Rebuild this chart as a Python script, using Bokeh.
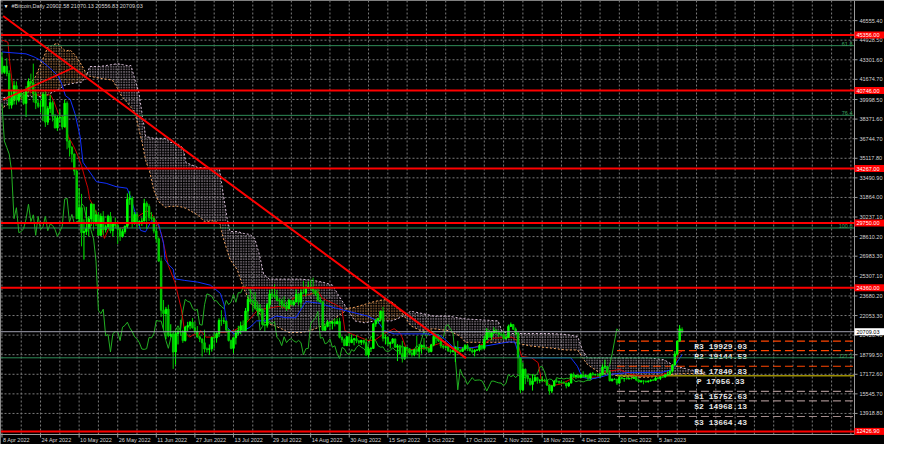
from bokeh.plotting import figure
from bokeh.models import ColumnDataSource, Range1d
from bokeh.core.properties import value
from bokeh.embed import file_html
from bokeh.resources import INLINE

# ---------------- daily candles, 8 Apr 2022 .. 15 Jan 2023 (day index 0..282) -------------
opens = [
 43450, 42260, 42760, 42160, 39530, 40080, 41150, 39940, 40550, 40380, 39680, 40800, 41500, 41370, 40480, 39710, 39450, 39450, 40430, 38120, 39240, 39740, 38600,
 37640, 38470, 38520, 37720, 39690, 36550, 36010, 35470, 34060, 30100, 31010, 28940, 29030, 29280, 30080, 31300, 29860, 30420, 28720, 30290, 29180, 29430, 30290, 29100, 29650, 29540, 29200, 28630, 29030, 29470, 31720,
 31790, 29800, 30450, 29700, 29860, 29910, 31370, 31120, 30200, 30110, 29080, 28420, 26570, 22490, 22210, 22580, 20380, 20470, 19020, 20550, 20720, 20710, 19970, 21090, 21230, 21500, 21030, 20730, 20280, 20100,
 19790, 19270, 19240, 19300, 20230, 20190, 20550, 21640, 21590, 21600, 20860, 19970, 19330, 20210, 20590, 20830, 21200, 20790, 22430, 23400, 23230, 23160, 22680, 22460, 22580, 21310, 21250, 22950, 23850, 23780, 23650,
 23300, 23270, 22990, 22820, 22620, 23310, 22960, 23180, 23810, 23160, 23950, 23940, 24400, 24440, 24300, 24100, 23850, 23340, 23200, 20830, 21140, 21520, 21400, 21530, 21370, 21560, 20240, 20040, 19550, 20290, 19800,
 20050, 20130, 19950, 19830, 19990, 19800, 18790, 19290, 19320, 21360, 21650, 21830, 22400, 20170, 20230, 19700, 19800, 20110, 19420, 19540, 18880, 18480, 19400, 19290, 18920, 18800, 19230, 19080, 19410, 19590,
 19420, 19310, 19060, 19620, 20330, 20160, 19960, 19530, 19420, 19450, 19130, 19060, 19150, 19380, 19180, 19070, 19270, 19550, 19330, 19130, 19040, 19170, 19200, 19570, 19330, 20080, 20770, 20290, 20600, 20810, 20630,
 20490, 20480, 20150, 20210, 21150, 21300, 20920, 20600, 18540, 15880, 17590, 17070, 16810, 16330, 16620, 16900, 16660, 16690, 16700, 16630, 16280, 15780, 16190, 16610, 16600, 16520, 16460, 16440, 16210, 16440,
 17170, 16970, 17090, 16890, 17110, 16970, 17090, 16840, 17220, 17130, 17130, 17090, 17210, 17780, 17810, 17360, 16630, 16780, 16740, 16440, 16900, 16820, 16830, 16780, 16840, 16830, 16920, 16700, 16550, 16630, 16600,
 16540, 16620, 16680, 16670, 16850, 16830, 16950, 16940, 17120, 17180, 17440, 17940, 18850, 19930, 20902.58]
highs = [
 43950, 42800, 43430, 42420, 40700, 41560, 41500, 40860, 40710, 40600, 41100, 41750, 42150, 42980, 40780, 39980, 39920, 40600, 40780, 39450, 40370, 39920, 38790,
 38670, 39150, 38650, 39980, 39850, 36650, 36130, 35500, 34250, 32650, 32160, 30040, 31080, 30320, 31420, 31320, 30780, 30660, 30540, 30730, 29610, 30430, 30650, 29810, 30200, 29850, 29370, 29250, 29530, 32200, 32380,
 31970, 30650, 30680, 29960, 30150, 31750, 31540, 31300, 30650, 30320, 29420, 28540, 26880, 23340, 22770, 22950, 21330, 20800, 20780, 21000, 21700, 20860, 21200, 21530, 21600, 21850, 21520, 21180, 20400, 20150,
 20880, 19400, 19650, 20300, 20700, 20650, 21820, 22500, 21900, 21620, 20880, 20060, 20270, 20850, 21200, 21550, 21650, 22680, 23750, 24250, 23420, 24000, 22980, 23000, 22640, 21340, 23090, 24180, 24440, 24650, 24170,
 23480, 23450, 23650, 23210, 23450, 23350, 23380, 24230, 23920, 24220, 24920, 24440, 24890, 25050, 25200, 24230, 24440, 23600, 23200, 21380, 21680, 21520, 21650, 21800, 21820, 21870, 20340, 20150, 20380, 20560, 20480,
 20200, 20440, 19980, 20020, 20040, 20170, 19450, 19450, 21450, 21780, 21850, 22480, 22780, 20480, 20330, 19900, 20180, 20110, 19680, 19630, 19950, 19480, 19480, 19320, 19200, 19300, 20350, 19700, 19640, 20180,
 19480, 19390, 19700, 20470, 20360, 20450, 20060, 19610, 19530, 19520, 19260, 19220, 19510, 19950, 19220, 19420, 19680, 19700, 19360, 19350, 19250, 19250, 19690, 19600, 20400, 21000, 20860, 20740, 21080, 20920, 20830,
 20690, 20780, 20380, 21300, 21470, 21350, 21060, 20670, 18590, 18150, 17650, 17070, 16880, 17170, 17120, 16980, 16740, 17000, 16800, 16750, 16290, 16300, 16680, 16800, 16620, 16700, 16600, 16480, 16530, 17250,
 17320, 17100, 17150, 17200, 17420, 17110, 17140, 17300, 17360, 17230, 17270, 17240, 18000, 18380, 17850, 17530, 16800, 16860, 16820, 17050, 16910, 16860, 16950, 16870, 16860, 16940, 16960, 16780, 16650, 16640, 16650,
 16630, 16760, 16780, 16980, 16880, 17020, 16970, 17180, 17390, 17490, 17990, 19100, 19960, 21260, 21070.13]
lows = [
 42100, 42130, 41930, 39200, 39250, 39580, 39570, 39770, 40030, 39550, 38550, 40580, 40850, 39760, 39200, 39290, 38920, 38200, 37720, 37880, 38880, 38180, 37600,
 37390, 38070, 37510, 37670, 35860, 35260, 34780, 33710, 30050, 29730, 27800, 26700, 28750, 28630, 29480, 29100, 29480, 28670, 28680, 28750, 28950, 29250, 28880, 28620, 29300, 28000, 28250, 28530, 28850, 29300, 31250,
 29350, 29600, 29350, 29500, 29500, 29870, 29250, 29900, 29950, 28870, 28100, 26560, 21930, 20850, 20100, 20250, 20240, 17620, 17970, 19650, 20360, 19780, 19900, 20750, 20900, 20980, 20530, 20200, 19850, 18650,
 18980, 18980, 18780, 19050, 19320, 19800, 20260, 21200, 21350, 20650, 19900, 19250, 18910, 19650, 20400, 20500, 20770, 20770, 21650, 23000, 22350, 22530, 22000, 22300, 21250, 20720, 21050, 22650, 23450, 23500, 23230,
 22850, 22650, 22700, 22430, 22580, 22920, 22850, 23150, 22900, 22700, 23880, 23630, 24300, 24150, 23800, 23680, 23200, 23080, 20790, 20800, 21070, 20900, 20900, 21150, 21330, 20150, 19800, 19550, 19550, 19530, 19770,
 19580, 19760, 19660, 19610, 19640, 18700, 18550, 19020, 19300, 21110, 21370, 21580, 19900, 19650, 19520, 19320, 19700, 19380, 18270, 18780, 18150, 18360, 18600, 18820, 18630, 18670, 18820, 18490, 18880, 19180,
 19160, 18930, 19000, 19500, 19740, 19860, 19340, 19260, 19320, 19030, 18890, 18980, 18190, 19080, 18990, 19060, 19160, 19100, 19080, 18900, 18660, 19110, 19070, 19160, 19250, 20060, 20200, 20000, 20560, 20530, 20260,
 20350, 20060, 20060, 20190, 21100, 20880, 20400, 17200, 15600, 15760, 16350, 16550, 16220, 15820, 16550, 16390, 16430, 16550, 16560, 16200, 15480, 15600, 16180, 16470, 16350, 16400, 16410, 16000, 16120, 16430,
 16860, 16790, 16860, 16880, 16880, 16910, 16690, 16740, 17070, 17090, 17070, 16880, 17080, 17660, 17280, 16590, 16580, 16700, 16280, 16400, 16750, 16560, 16760, 16770, 16730, 16780, 16600, 16480, 16480, 16340, 16480,
 16500, 16560, 16610, 16660, 16750, 16690, 16910, 16920, 17100, 17150, 17320, 17910, 18720, 19890, 20556.83]
closes = [
 42260, 42760, 42160, 39530, 40080, 41150, 39940, 40550, 40380, 39680, 40800, 41500, 41370, 40480, 39710, 39450, 39450, 40430, 38120, 39240, 39740, 38600, 37640,
 38470, 38520, 37720, 39690, 36550, 36010, 35470, 34060, 30100, 31010, 28940, 29030, 29280, 30080, 31300, 29860, 30420, 28720, 30290, 29180, 29430, 30290, 29100, 29650, 29540, 29200, 28630, 29030, 29470, 31720, 31790,
 29800, 30450, 29700, 29860, 29910, 31370, 31120, 30200, 30110, 29080, 28420, 26570, 22490, 22210, 22580, 20380, 20470, 19020, 20550, 20720, 20710, 19970, 21090, 21230, 21500, 21030, 20730, 20280, 20100, 19790,
 19270, 19240, 19300, 20230, 20190, 20550, 21640, 21590, 21600, 20860, 19970, 19330, 20210, 20590, 20830, 21200, 20790, 22430, 23400, 23230, 23160, 22680, 22460, 22580, 21310, 21250, 22950, 23850, 23780, 23650, 23300,
 23270, 22990, 22820, 22620, 23310, 22960, 23180, 23810, 23160, 23950, 23940, 24400, 24440, 24300, 24100, 23850, 23340, 23200, 20830, 21140, 21520, 21400, 21530, 21370, 21560, 20240, 20040, 19550, 20290, 19800, 20050,
 20130, 19950, 19830, 19990, 19800, 18790, 19290, 19320, 21360, 21650, 21830, 22400, 20170, 20230, 19700, 19800, 20110, 19420, 19540, 18880, 18480, 19400, 19290, 18920, 18800, 19230, 19080, 19410, 19590, 19420,
 19310, 19060, 19620, 20330, 20160, 19960, 19530, 19420, 19450, 19130, 19060, 19150, 19380, 19180, 19070, 19270, 19550, 19330, 19130, 19040, 19170, 19200, 19570, 19330, 20080, 20770, 20290, 20600, 20810, 20630, 20490,
 20480, 20150, 20210, 21150, 21300, 20920, 20600, 18540, 15880, 17590, 17070, 16810, 16330, 16620, 16900, 16660, 16690, 16700, 16630, 16280, 15780, 16190, 16610, 16600, 16520, 16460, 16440, 16210, 16440, 17170,
 16970, 17090, 16890, 17110, 16970, 17090, 16840, 17220, 17130, 17130, 17090, 17210, 17780, 17810, 17360, 16630, 16780, 16740, 16440, 16900, 16820, 16830, 16780, 16840, 16830, 16920, 16700, 16550, 16630, 16600, 16540,
 16620, 16680, 16670, 16850, 16830, 16950, 16940, 17120, 17180, 17440, 17940, 18850, 19930, 20950, 20709.03]

# ---------------- Ichimoku lines (day, price) ----------------
tenkan = [(0, 44940), (2.5, 44760), (3.2, 43140), (4.6, 40830), (7.9, 40020), (10.7, 40830), (13.2, 40430),
          (17.3, 40320), (20.1, 40400), (21.4, 39920), (23.4, 38810), (25.4, 38550), (27.5, 36930), (29, 36390),
          (30.3, 35880), (31.5, 35320), (33, 34510), (34.4, 33460), (35.6, 32660), (36.4, 31690), (37.6, 31290),
          (40.5, 29940), (42.5, 28460), (44.6, 29430), (46.6, 29670), (48.6, 29270), (51.4, 29430), (53.9, 29840),
          (56.8, 30340), (60, 30750), (62.1, 30480), (64.1, 29840), (66.1, 28870), (69, 26210), (71.7, 24830),
          (74.3, 22680), (75.8, 20670), (77.8, 20260), (79.9, 20530), (81.2, 20260), (82.4, 20800), (84.5, 20260),
          (88, 20260), (90, 20670), (93.4, 20670), (96.1, 20800), (98.7, 21070), (101.5, 21470), (105.6, 22410),
          (108.3, 22580), (110.9, 22680), (115, 22820), (119, 22580), (120.6, 23490), (123.1, 23620), (127.2, 23790),
          (131.3, 24030), (132.8, 23490), (138.2, 22980), (140.9, 22680), (142.2, 20800), (145, 20530), (151.6, 19990),
          (154.5, 19990), (158.5, 20560), (162.6, 20960), (165.3, 20560), (167.9, 19190), (176, 19350), (181.6, 19750),
          (185.7, 19450), (189.7, 19350), (195.2, 19350), (200.4, 19750), (203.3, 20160), (211.4, 20260), (213.5, 19990),
          (215.5, 18650), (219.6, 18540), (222.3, 18140), (223.6, 16770), (227.7, 16230), (231.8, 16360), (235.9, 16770),
          (238.6, 17040), (241.1, 16930), (246.7, 16930), (249.3, 17330), (252.1, 17440), (256.2, 17570), (260.3, 17170),
          (265.6, 17040), (272.5, 17040), (276.5, 17330), (279.3, 18140), (280.6, 18950), (282, 19090)]
kijun = [(0, 43950), (10, 43790), (13.2, 43550), (16.1, 43250), (20.1, 42580), (23.4, 41930), (24.9, 41230),
         (26.3, 40320), (28.3, 40020), (30.3, 38810), (32.4, 36930), (33.6, 34780), (39.2, 33170), (43.2, 33040),
         (47.3, 32760), (51.9, 32630), (53.4, 31850), (55.4, 30480), (57.5, 29130), (59.5, 29000), (62.1, 29940),
         (64.9, 29680), (67, 28060), (67.6, 26720), (69, 26310), (71, 25910), (71.7, 25100), (75.8, 24970),
         (81.2, 24830), (86.5, 24570), (90.6, 23890), (92.1, 22950), (93.4, 21070), (96.1, 20530), (98.7, 20660),
         (102.8, 21070), (105.6, 21610), (109.7, 21610), (113.8, 22010), (117.8, 21870), (121.9, 21870), (126, 23220),
         (131.3, 23080), (138.2, 22680), (143.5, 22410), (151.6, 22010), (155.7, 21610), (158.5, 20800), (162.6, 20530),
         (176, 20530), (181.6, 20400), (184.2, 19990), (187, 19450), (192.3, 19330), (200.4, 19520), (210.1, 19860),
         (212.7, 19860), (214.7, 18540), (235.9, 18540), (238.6, 17840), (240.6, 16930), (244, 16770), (248, 16930),
         (252.1, 17170), (260.3, 17330), (273.7, 17330), (277.8, 17570), (280.6, 18380), (282, 18800)]
# cloud: (day, senkou span A, senkou span B)
cloud = [(0.6, 39350, 40160), (8, 40300, 40400), (14, 41930, 40160), (19, 44350, 40400), (23, 44680, 40800),
         (26.3, 44030, 41210), (28.3, 44110, 41290), (30.3, 43710, 41370), (33.2, 42820, 41450), (35.2, 42050, 42050),
         (36.4, 41930, 42740), (40.5, 41770, 42740), (45.8, 41610, 42900), (47.8, 40970, 42980), (49.9, 40160, 42900),
         (51.9, 39760, 42820), (53.5, 39350, 42820), (55.2, 38870, 41610), (56.8, 37500, 40560), (58, 36530, 38950),
         (59.6, 34920, 36930), (61.3, 33950, 36850), (62.9, 32500, 36770), (64.9, 31530, 36770), (67.8, 31040, 36770),
         (69.8, 31130, 36450), (73.1, 31130, 36290), (75.1, 31040, 35970), (76.3, 30960, 34760), (81.2, 30400, 34350),
         (84, 29840, 34350), (87.3, 29920, 34270), (90.2, 29750, 34190), (91.8, 28460, 32090), (93.4, 27420, 30080),
         (94.6, 26690, 29030), (97.5, 25880, 29030), (100.3, 24270, 28870), (102.8, 23220, 28790), (104.8, 22660, 28460),
         (106.8, 22250, 27090), (108.5, 21610, 25480), (110.9, 21370, 25080), (115, 21040, 25080), (119, 20640, 25080),
         (123.9, 20640, 25080), (128, 20800, 25000), (132.9, 21200, 24830), (137, 21610, 24590), (139.4, 22010, 23790),
         (142.2, 22410, 22900), (143, 22650, 22650), (146.3, 22740, 21610), (150.4, 22980, 21450), (154.5, 23220, 21610),
         (158.5, 23380, 21610), (161.4, 23220, 21610), (163.8, 22820, 21770), (166.7, 22050, 22050), (169.5, 21200, 22410),
         (173.6, 20800, 22250), (178.9, 20960, 22010), (185, 20800, 22010), (189.5, 20400, 21850), (192.3, 19830, 21770),
         (199.2, 19830, 21690), (205.7, 19830, 21610), (207.4, 19830, 20720), (211.4, 19830, 20560), (219.6, 19510, 20560),
         (227.7, 19350, 20560), (233.8, 19190, 20480), (238.7, 19190, 20320), (240.7, 18540, 19190), (242.8, 17980, 18540),
         (248.1, 17250, 18540), (254.2, 17090, 18540), (260.3, 16930, 18540), (268.4, 16930, 18540), (274.5, 17090, 18380),
         (278.6, 17170, 17900), (284.7, 17250, 17570), (291.6, 17170, 17330)]
chikou_shift = 26

# ---------------- levels / drawn objects ----------------
red_levels = [45356.00, 40746.00, 34267.00, 29750.00, 24360.00, 12426.90]
fib_levels = [44474, 38684, 29326, 18541]
fib_labels = ["61.8", "76.4", "100.0", "127.2"]
last_price = 20709.03
pivot_names = ["R3", "R2", "R1", "P", "S1", "S2", "S3"]
pivot_values = [19929.03, 19144.53, 17840.83, 17056.33, 15752.63, 14968.13, 13664.43]
pivot_start_day = 255
pivot_label_day = 298
trend_long = [(0.5, 46934), (192.4, 18519)]
trend_short = [(0.5, 39982), (29.6, 42635)]

y_ticks = [46555.40, 44928.50, 43301.60, 41674.70, 39998.50, 38371.60, 36744.70, 35117.80, 33490.90,
           31864.00, 30237.10, 28610.20, 26983.30, 25307.10, 23680.20, 22053.30, 20426.40, 18799.50,
           17172.60, 15545.70, 13918.80]
date_tick_days = [0, 16, 32, 48, 64, 80, 96, 112, 128, 144, 160, 176, 192, 208, 224, 240, 256, 272]
date_tick_labels = ["8 Apr 2022", "24 Apr 2022", "10 May 2022", "26 May 2022", "11 Jun 2022", "27 Jun 2022",
                    "13 Jul 2022", "29 Jul 2022", "14 Aug 2022", "30 Aug 2022", "15 Sep 2022", "1 Oct 2022",
                    "17 Oct 2022", "2 Nov 2022", "18 Nov 2022", "4 Dec 2022", "20 Dec 2022", "5 Jan 2023"]
grid_step_days = 8
title_text = "#Bitcoin,Daily  20902.58 21070.13 20556.83 20709.03"

# ---------------- geometry: chart area + price scale + time scale drawn in one frame ----------------
W, H = 884, 444
CHART_W, CHART_H = 854, 434            # chart area in pixels (rest = scales)
X0, XC = -0.6, 353.5                   # visible days of the chart area
Y0, Y1 = 12170, 48225                  # visible prices of the chart area
DPX = (XC - X0) / CHART_W              # days per pixel
VPX = (Y1 - Y0) / CHART_H              # price per pixel
X_END = X0 + W * DPX
Y_START = Y0 - (H - CHART_H) * VPX

FONT = "Liberation Sans"
TXT = "#d6d6d6"
FS = "5.5px"
BORDER = "#9a9a9a"

p = figure(width=W, height=H, x_range=Range1d(X0, X_END), y_range=Range1d(Y_START, Y1),
           x_axis_location=None, y_axis_location=None, output_backend="svg", toolbar_location=None,
           background_fill_color="black", border_fill_color="black", min_border=0)
p.outline_line_color = None
p.grid.visible = False

# grid
gdays = list(range(0, int(XC) + 1, grid_step_days))
p.segment(x0=gdays, x1=gdays, y0=[Y0] * len(gdays), y1=[Y1] * len(gdays),
          line_color="#7a7a7a", line_dash="2 2", line_width=1)
p.segment(x0=[X0] * len(y_ticks), x1=[XC] * len(y_ticks), y0=y_ticks, y1=y_ticks,
          line_color="#7a7a7a", line_dash="2 2", line_width=1)

# ---------------- cloud ----------------
cd = [c[0] for c in cloud]
span_a = [c[1] for c in cloud]
span_b = [c[2] for c in cloud]
top_ab = [max(a, b) for a, b in zip(span_a, span_b)]
p.varea(x=cd, y1=span_b, y2=top_ab, fill_alpha=0, hatch_pattern="dot", hatch_color="#f4a460",
        hatch_scale=2.6, hatch_weight=1.2, hatch_alpha=1.0)
p.varea(x=cd, y1=span_a, y2=top_ab, fill_alpha=0, hatch_pattern="dot", hatch_color="#e0cce0",
        hatch_scale=2.6, hatch_weight=1.2, hatch_alpha=1.0)
p.line(cd, span_a, line_color="#f4a460", line_dash="2 2", line_width=1)
p.line(cd, span_b, line_color="#d8bfd8", line_dash="2 2", line_width=1)

# ---------------- pivot levels ----------------
piv_colors = ["#ff4500", "#ff4500", "#ff4500", "#9a8c00", "#a08a8a", "#a08a8a", "#a08a8a"]
piv_dash = ["8 4", "8 4", "8 4", "solid", "8 4", "8 4", "8 4"]
for v, c, d in zip(pivot_values, piv_colors, piv_dash):
    p.segment(x0=[pivot_start_day], x1=[XC], y0=[v], y1=[v], line_color=c, line_dash=d,
              line_width=1.5 if d == "solid" else 1.2)
p.text(x=[pivot_label_day] * len(pivot_values), y=pivot_values,
       text=[f"{n} {v:.2f}" for n, v in zip(pivot_names, pivot_values)],
       text_align="center", text_baseline="top", y_offset=1,
       text_font=value("Liberation Mono"), text_font_size="8px", text_font_style="bold",
       text_color="#e6e6e6")

# ---------------- indicator lines ----------------
cx = [d - chikou_shift for d in range(chikou_shift, len(closes))]
p.line(cx, closes[chikou_shift:], line_color="#22b022", line_width=1)
p.line([t[0] for t in tenkan], [t[1] for t in tenkan], line_color="#cc0000", line_width=1)
p.line([k[0] for k in kijun], [k[1] for k in kijun], line_color="#1030ff", line_width=1)

# ---------------- candles ----------------
days = list(range(len(closes)))
bull = [c >= o for o, c in zip(opens, closes)]
src = ColumnDataSource(dict(
    x=days, h=highs, l=lows,
    top=[max(o, c) for o, c in zip(opens, closes)],
    bot=[min(o, c) for o, c in zip(opens, closes)],
    col=["#00ff00" if b else "#00c800" for b in bull]))
p.segment(x0="x", y0="h", x1="x", y1="l", line_color="col", line_width=1, source=src)
p.vbar(x="x", width=0.6, top="top", bottom="bot", fill_color="col", line_color="col", source=src)

# ---------------- horizontal levels ----------------
nf = len(fib_levels)
p.segment(x0=[X0] * nf, x1=[XC] * nf, y0=fib_levels, y1=fib_levels, line_color="#2e8b57", line_width=1)
p.text(x=[XC] * nf, y=fib_levels, text=fib_labels, text_align="right",
       text_baseline="bottom", x_offset=-2, text_font=value(FONT), text_font_size=FS,
       text_color="#3aa060")
p.segment(x0=[X0], x1=[XC], y0=[last_price], y1=[last_price], line_color="#a0a0b0", line_width=1)
nr = len(red_levels)
p.segment(x0=[X0] * nr, x1=[XC] * nr, y0=red_levels, y1=red_levels, line_color="#ff0000", line_width=2)

p.line([t[0] for t in trend_long], [t[1] for t in trend_long], line_color="#ff0000", line_width=2)
p.line([t[0] for t in trend_short], [t[1] for t in trend_short], line_color="#ff0000", line_width=1.5)

# ---------------- chart border ----------------
p.segment(x0=[X0, XC, X0], x1=[X0, XC, XC], y0=[Y0, Y0, Y0], y1=[Y1, Y1, Y0],
          line_color=BORDER, line_width=1)

# ---------------- price scale ----------------
nt = len(y_ticks)
p.segment(x0=[XC] * nt, x1=[XC + 3 * DPX] * nt, y0=y_ticks, y1=y_ticks, line_color=BORDER, line_width=1)
p.text(x=[XC + 5 * DPX] * nt, y=y_ticks, text=[f"{v:.2f}" for v in y_ticks],
       text_align="left", text_baseline="middle", text_font=value(FONT), text_font_size=FS,
       text_color=TXT)
box_x = XC + 15 * DPX
p.rect(x=[box_x] * nr, y=red_levels, width=30, height=7, width_units="screen", height_units="screen",
       fill_color="#ff0000", line_color=None)
p.text(x=[XC + 2 * DPX] * nr, y=red_levels, text=[f"{v:.2f}" for v in red_levels],
       text_align="left", text_baseline="middle", text_font=value(FONT), text_font_size=FS,
       text_color="white")
p.rect(x=[box_x], y=[last_price], width=30, height=7, width_units="screen", height_units="screen",
       fill_color="white", line_color=None)
p.text(x=[XC + 2 * DPX], y=[last_price], text=[f"{last_price:.2f}"],
       text_align="left", text_baseline="middle", text_font=value(FONT), text_font_size=FS,
       text_color="black")

# ---------------- time scale ----------------
nd = len(date_tick_days)
p.segment(x0=date_tick_days, x1=date_tick_days, y0=[Y0] * nd, y1=[Y0 - 3 * VPX] * nd,
          line_color=BORDER, line_width=1)
p.text(x=[d + 1 * DPX for d in date_tick_days], y=[Y0 - 2 * VPX] * nd, text=date_tick_labels,
       text_align="left", text_baseline="top", text_font=value(FONT), text_font_size=FS,
       text_color=TXT)

# ---------------- title ----------------
p.text(x=[X0 + 3 * DPX], y=[Y1 - 2 * VPX], text=["\u25BC"], text_baseline="top",
       text_font_size="5px", text_color="white")
p.text(x=[X0 + 11 * DPX], y=[Y1 - 2 * VPX], text=[title_text], text_baseline="top",
       text_font=value(FONT), text_font_size=FS, text_color=TXT)

open("out.html", "w").write(file_html(p, INLINE))
